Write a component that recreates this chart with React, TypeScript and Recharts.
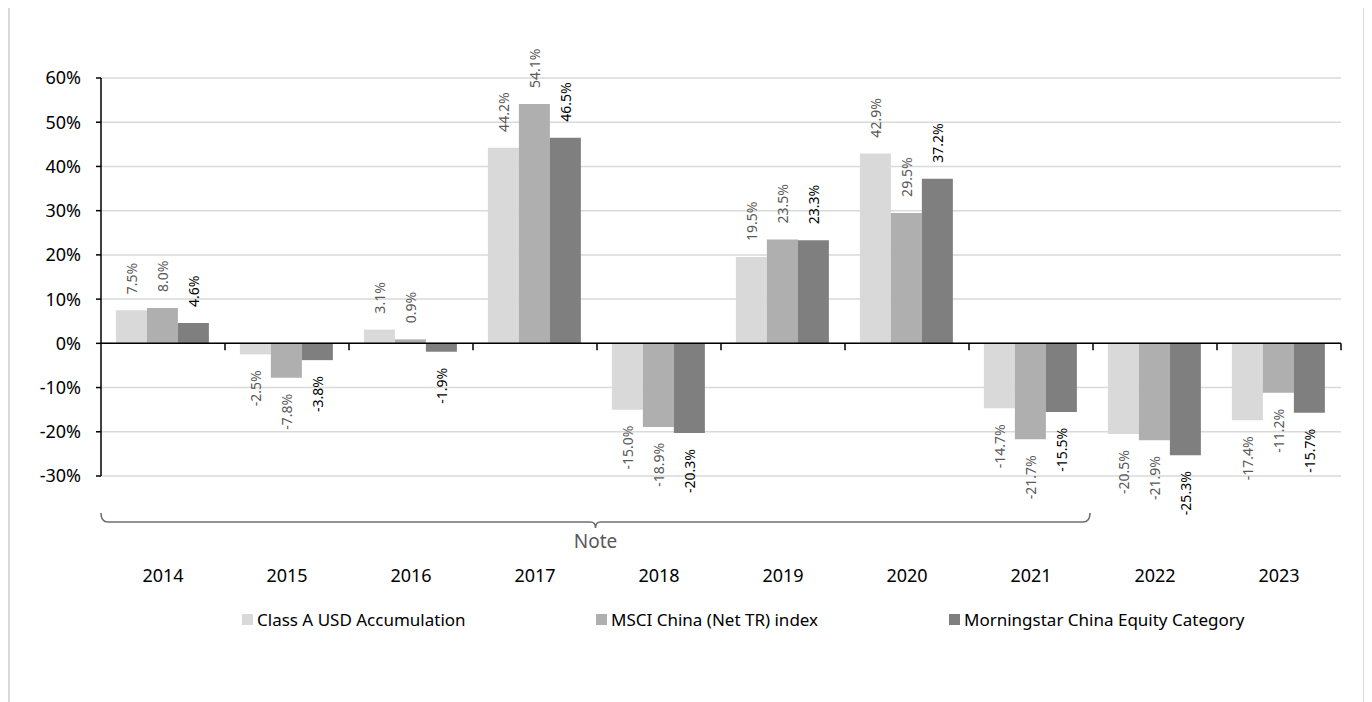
import React from "react";
import {
  BarChart,
  Bar,
  XAxis,
  YAxis,
  CartesianGrid,
  Legend,
  LabelList,
  ReferenceLine,
} from "recharts";

const years = ["2014", "2015", "2016", "2017", "2018", "2019", "2020", "2021", "2022", "2023"];
const classA = [7.5, -2.5, 3.1, 44.2, -15.0, 19.5, 42.9, -14.7, -20.5, -17.4];
const msci = [8.0, -7.8, 0.9, 54.1, -18.9, 23.5, 29.5, -21.7, -21.9, -11.2];
const morningstar = [4.6, -3.8, -1.9, 46.5, -20.3, 23.3, 37.2, -15.5, -25.3, -15.7];
const yTicks = [-30, -20, -10, 0, 10, 20, 30, 40, 50, 60];
const noteSpan = 8; // bracket covers 2014-2021
const noteText = "Note";

const series = [
  { key: "classA", name: "Class A USD Accumulation", fill: "#D9D9D9", label: "#595959" },
  { key: "msci", name: "MSCI China (Net TR) index", fill: "#AFAFAF", label: "#595959" },
  { key: "morningstar", name: "Morningstar China Equity Category", fill: "#7F7F7F", label: "#000000" },
];

const data = years.map((year, i) => ({
  year,
  classA: classA[i],
  msci: msci[i],
  morningstar: morningstar[i],
}));

const FONT = "'Noto Sans', 'Open Sans', sans-serif";

const makeLabel = (color: string) => (props: any) => {
  const { x, y, width, height, value } = props;
  const cx = Number(x) + Number(width) / 2;
  const top = Math.min(Number(y), Number(y) + Number(height));
  const bottom = Math.max(Number(y), Number(y) + Number(height));
  const pos = Number(value) >= 0;
  const ay = pos ? top - 16 : bottom + 16;
  return (
    <text
      x={cx}
      y={ay}
      transform={`rotate(-90 ${cx} ${ay})`}
      textAnchor={pos ? "start" : "end"}
      dominantBaseline="central"
      fontSize={14}
      fontFamily={FONT}
      fill={color}
    >
      {Number(value).toFixed(1) + "%"}
    </text>
  );
};

const ZeroAxis = (props: any) => {
  const { x1, x2, y1 } = props;
  const band = (x2 - x1) / years.length;
  return (
    <g>
      <line x1={x1} x2={x2} y1={y1} y2={y1} stroke="#000" strokeWidth={1.5} />
      {years.map((_, i) => (
        <line key={i} x1={x1 + band * (i + 1)} x2={x1 + band * (i + 1)} y1={y1} y2={y1 + 7} stroke="#000" strokeWidth={1.5} />
      ))}
    </g>
  );
};

const NoteBrace = (props: any) => {
  const { x1, x2, y1 } = props;
  const band = (x2 - x1) / years.length;
  const a = x1;
  const b = x1 + band * noteSpan - 3;
  const m = (a + b) / 2;
  const y = y1 + 46;
  const d = `M ${a} ${y - 9} Q ${a} ${y} ${a + 7} ${y} L ${m - 5} ${y} Q ${m} ${y} ${m} ${y + 6} Q ${m} ${y} ${m + 5} ${y} L ${b - 7} ${y} Q ${b} ${y} ${b} ${y - 9}`;
  return (
    <g>
      <path d={d} fill="none" stroke="#6f6f6f" strokeWidth={1.6} />
      <text x={m} y={y + 19} textAnchor="middle" dominantBaseline="central" fontSize={19} fontFamily={FONT} fill="#595959">
        {noteText}
      </text>
    </g>
  );
};

const legendLeft = [232, 586, 939];

const renderLegend = () => (
  <div style={{ position: "relative", height: 24, width: 1353, fontFamily: FONT, fontSize: 17, color: "#000" }}>
    {series.map((s, i) => (
      <div key={s.key} style={{ position: "absolute", left: legendLeft[i], top: 0, height: 24, display: "flex", alignItems: "center", whiteSpace: "nowrap" }}>
        <span style={{ display: "inline-block", width: 11, height: 11, background: s.fill, marginRight: 4 }} />
        <span>{s.name}</span>
      </div>
    ))}
  </div>
);

export default function App() {
  return (
    <div
      style={{
        marginTop: -3,
        width: 1357,
        height: 700,
        border: "2px solid #D9D9D9",
        borderBottom: "none",
        boxSizing: "border-box",
        background: "#fff",
      }}
    >
      <BarChart
        width={1353}
        height={695}
        data={data}
        margin={{ top: 71, right: 22, left: 0, bottom: 71 }}
        barCategoryGap="12%"
        barGap={0}
      >
        <CartesianGrid vertical={false} stroke="#D9D9D9" strokeWidth={1.5} />
        <XAxis
          dataKey="year"
          height={131}
          axisLine={false}
          tickLine={false}
          tickSize={0}
          tickMargin={93}
          tick={{ fontSize: 18, fontFamily: FONT, fill: "#000" }}
          interval={0}
        />
        <YAxis
          width={91}
          domain={[-30, 60]}
          ticks={yTicks}
          interval={0}
          tickFormatter={(v: number) => `${v}%`}
          axisLine={{ stroke: "#000", strokeWidth: 1.5 }}
          tickLine={{ stroke: "#000", strokeWidth: 1.5 }}
          tickSize={5}
          tickMargin={15}
          tick={{ fontSize: 18, fontFamily: FONT, fill: "#000" }}
        />
        {series.map((s) => (
          <Bar key={s.key} dataKey={s.key} name={s.name} fill={s.fill} isAnimationActive={false}>
            <LabelList dataKey={s.key} content={makeLabel(s.label)} />
          </Bar>
        ))}
        <ReferenceLine y={0} shape={ZeroAxis} />
        <ReferenceLine y={-30} shape={NoteBrace} />
        <Legend verticalAlign="bottom" content={renderLegend} wrapperStyle={{ left: 0, width: 1353 }} />
      </BarChart>
    </div>
  );
}
